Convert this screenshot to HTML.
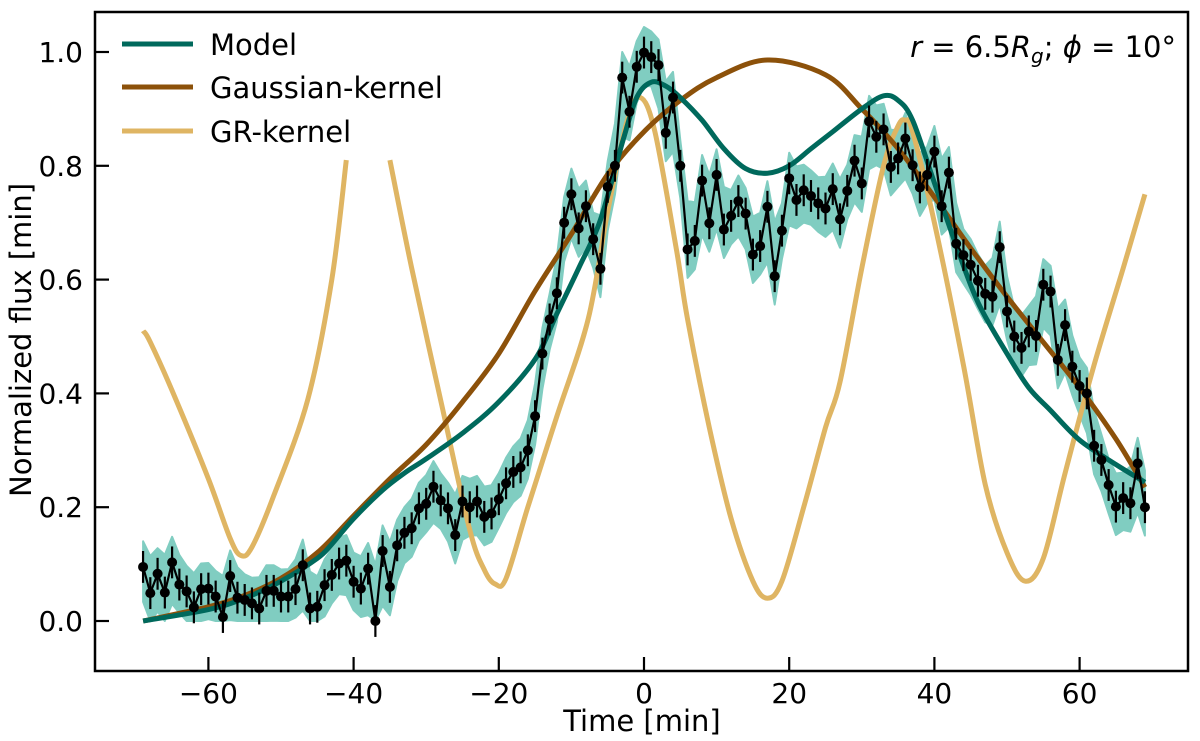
<!DOCTYPE html>
<html><head><meta charset="utf-8">
<style>
html,body{margin:0;padding:0;background:#fff;}
svg{display:block;font-family:"DejaVu Sans","Liberation Sans",sans-serif;}
</style></head>
<body>
<svg id="chart" width="1200" height="741" viewBox="0 0 1200 741" xmlns="http://www.w3.org/2000/svg">
<defs><clipPath id="plotclip"><rect x="95" y="12" width="1093" height="659"/></clipPath></defs>
<g id="plot" clip-path="url(#plotclip)"></g>
<rect x="95" y="12" width="1093" height="659" fill="none" stroke="#000" stroke-width="2.5"/>
<g id="axes"></g>
<text x="642" y="731" font-size="29" text-anchor="middle">Time [min]</text>
<text transform="translate(31,340) rotate(-90)" font-size="29" text-anchor="middle">Normalized flux [min]</text>
<g>
<line x1="122" y1="44" x2="193" y2="44" stroke="#00695c" stroke-width="5"/>
<text x="210" y="55" font-size="29">Model</text>
<line x1="122" y1="87" x2="193" y2="87" stroke="#8c510a" stroke-width="5"/>
<text x="210" y="98" font-size="29">Gaussian-kernel</text>
<line x1="122" y1="131" x2="193" y2="131" stroke="#dfb563" stroke-width="5"/>
<text x="210" y="142" font-size="29">GR-kernel</text>
</g>
<text x="1176" y="57" font-size="29" text-anchor="end"><tspan font-style="italic">r</tspan> = 6.5<tspan font-style="italic">R</tspan><tspan font-style="italic" font-size="20" dy="6">g</tspan><tspan dy="-6">; </tspan><tspan font-style="italic">ϕ</tspan> = 10°</text>
</svg>
<script>
const xTicks = [-60,-40,-20,0,20,40,60];
const yTicks = [0.0,0.2,0.4,0.6,0.8,1.0];
const yTickLabels = ["0.0","0.2","0.4","0.6","0.8","1.0"];
const dataT0 = -69;
const dataFlux = [0.095,0.049,0.083,0.050,0.103,0.064,0.052,0.024,0.056,0.057,0.043,0.007,0.079,0.041,0.037,0.031,0.022,0.053,0.053,0.043,0.043,0.056,0.098,0.022,0.025,0.063,0.081,0.101,0.106,0.069,0.057,0.092,0.0,0.123,0.060,0.133,0.155,0.163,0.198,0.206,
0.236,0.212,0.198,0.151,0.210,0.200,0.210,0.183,0.189,0.214,0.242,0.262,
0.27,0.30,0.36,0.47,0.53,
0.576,0.700,0.750,0.690,0.729,0.671,0.619,0.763,0.800,0.955,0.895,0.974,0.999,0.991,0.977,0.858,0.920,0.800,0.653,0.668,0.774,0.699,0.784,0.688,0.712,0.738,0.716,0.644,0.659,0.728,0.606,0.686,0.778,0.740,0.757,0.747,0.734,0.725,0.759,0.706,
0.756,0.809,0.769,0.878,0.851,0.864,0.798,0.813,0.848,0.801,0.762,0.784,0.825,0.729,0.788,0.663,0.643,0.626,0.598,0.575,0.570,0.657,0.544,0.500,0.480,0.509,0.501,0.591,0.579,0.459,0.520,0.447,0.413,0.400,0.308,0.283,0.239,0.201,0.216,0.207,0.277,0.200];
const dataErr = 0.028;
const modelT = [-69,-60,-55,-50,-45,-43,-40,-36,-33,-30,-25,-20,-15,-12,-9,-6,-3,-1,1,3,5,8,11,14,17,20,23,26,30,33,35,37,40,43,46,50,53,56,60,65,69];
const modelV = [0,0.02,0.04,0.07,0.11,0.135,0.18,0.23,0.26,0.285,0.33,0.385,0.46,0.54,0.62,0.705,0.84,0.92,0.947,0.94,0.92,0.88,0.83,0.795,0.787,0.80,0.83,0.86,0.90,0.923,0.915,0.88,0.77,0.66,0.56,0.47,0.41,0.37,0.318,0.275,0.244];
const gaussT = [-69,-60,-55,-50,-45,-40,-35,-30,-25,-20,-15,-10,-5,0,5,10,17,25,30,35,40,45,50,55,60,65,69];
const gaussV = [0,0.025,0.045,0.075,0.12,0.185,0.25,0.31,0.385,0.47,0.58,0.68,0.785,0.86,0.915,0.955,0.986,0.96,0.90,0.83,0.745,0.655,0.57,0.49,0.41,0.32,0.235];
const grT1 = [-69,-68,-64.5,-60,-57,-55.5,-54,-51,-46.3,-43,-41];
const grV1 = [0.51,0.49,0.39,0.25,0.145,0.115,0.13,0.22,0.39,0.6,0.81];
const grT2 = [-35,-32,-27.8,-24,-22,-20.5,-19,-16,-12,-7.7,-5,-2.3,-0.5,1.5,4.5,6,9,12,15,17,19,22,25,27,30,33,35,36,37,40,44,47,50,52.5,55,58,62,66,69];
const grV2 = [0.81,0.62,0.376,0.16,0.09,0.065,0.075,0.2,0.36,0.53,0.72,0.88,0.92,0.86,0.65,0.53,0.34,0.18,0.07,0.04,0.07,0.2,0.34,0.42,0.62,0.80,0.87,0.88,0.86,0.7,0.45,0.24,0.12,0.07,0.11,0.26,0.45,0.62,0.75];

const X = t => 644 + t*7.26;
const Y = v => 621 - v*569;
const NS = "http://www.w3.org/2000/svg";
const plot = document.getElementById('plot');
const axes = document.getElementById('axes');
function mk(tag, attrs, parent){const e=document.createElementNS(NS,tag);for(const k in attrs)e.setAttribute(k,attrs[k]);parent.appendChild(e);return e;}
function smooth(pts){
  let d="M"+pts[0][0].toFixed(1)+","+pts[0][1].toFixed(1);
  for(let i=0;i<pts.length-1;i++){
    const p0=pts[Math.max(0,i-1)],p1=pts[i],p2=pts[i+1],p3=pts[Math.min(pts.length-1,i+2)];
    const c1=[p1[0]+(p2[0]-p0[0])/6,p1[1]+(p2[1]-p0[1])/6];
    const c2=[p2[0]-(p3[0]-p1[0])/6,p2[1]-(p3[1]-p1[1])/6];
    d+="C"+c1[0].toFixed(1)+","+c1[1].toFixed(1)+" "+c2[0].toFixed(1)+","+c2[1].toFixed(1)+" "+p2[0].toFixed(1)+","+p2[1].toFixed(1);
  }
  return d;
}
// ensemble band
const up=[],lo=[];
dataFlux.forEach((v,i)=>{const t=dataT0+i;
  const a=i>0?dataFlux[i-1]:v, b=i<dataFlux.length-1?dataFlux[i+1]:v;
  const m=(a+2*v+b)/4;
  up.push([X(t),Y(Math.max(v,m)+0.045)]);lo.push([X(t),Y(Math.max(0,Math.min(v,m)-0.05))]);});
let bd="M"+up.map(p=>p[0].toFixed(1)+","+p[1].toFixed(1)).join("L")+"L"+lo.reverse().map(p=>p[0].toFixed(1)+","+p[1].toFixed(1)).join("L")+"Z";
const band=mk('path',{d:bd,fill:'#80cdc1',stroke:'#80cdc1','stroke-width':2,'stroke-linejoin':'round'},plot);


function curve(T,V,color){return mk('path',{d:smooth(T.map((t,i)=>[X(t),Y(V[i])])),fill:'none',stroke:color,'stroke-width':5,'stroke-linecap':'butt'},plot);}
const gr1=curve(grT1,grV1,'#dfb563');


const gr2=curve(grT2,grV2,'#dfb563');


const gc=curve(gaussT,gaussV,'#8c510a');


const mc=curve(modelT,modelV,'#00695c');


const dg=mk('g',{},plot);


dataFlux.forEach((v,i)=>{const t=dataT0+i;
  const eb=mk('line',{x1:X(t),x2:X(t),y1:Y(v-dataErr),y2:Y(v+dataErr),stroke:'#000','stroke-width':2.2},dg);
  
  
});
const dl=mk('polyline',{points:dataFlux.map((v,i)=>X(dataT0+i).toFixed(1)+","+Y(v).toFixed(1)).join(" "),fill:'none',stroke:'#000','stroke-width':2.2},dg);


dataFlux.forEach((v,i)=>{
  const c=mk('circle',{cx:X(dataT0+i),cy:Y(v),r:5,fill:'#000'},dg);
  
  
});
xTicks.forEach(t=>{
  const l=mk('line',{x1:X(t),x2:X(t),y1:671,y2:657,stroke:'#000','stroke-width':2.2},axes);
  
  
  const tx=mk('text',{x:X(t),y:703,'font-size':28,'text-anchor':'middle'},axes);
  tx.textContent=(t<0?'\u2212':'')+Math.abs(t);
  
  
});
yTicks.forEach((v,i)=>{
  const l=mk('line',{x1:95,x2:109,y1:Y(v),y2:Y(v),stroke:'#000','stroke-width':2.2},axes);
  
  
  const tx=mk('text',{x:83,y:Y(v)+10,'font-size':28,'text-anchor':'end'},axes);
  tx.textContent=yTickLabels[i];
  
  
});
</script>
</body></html>
